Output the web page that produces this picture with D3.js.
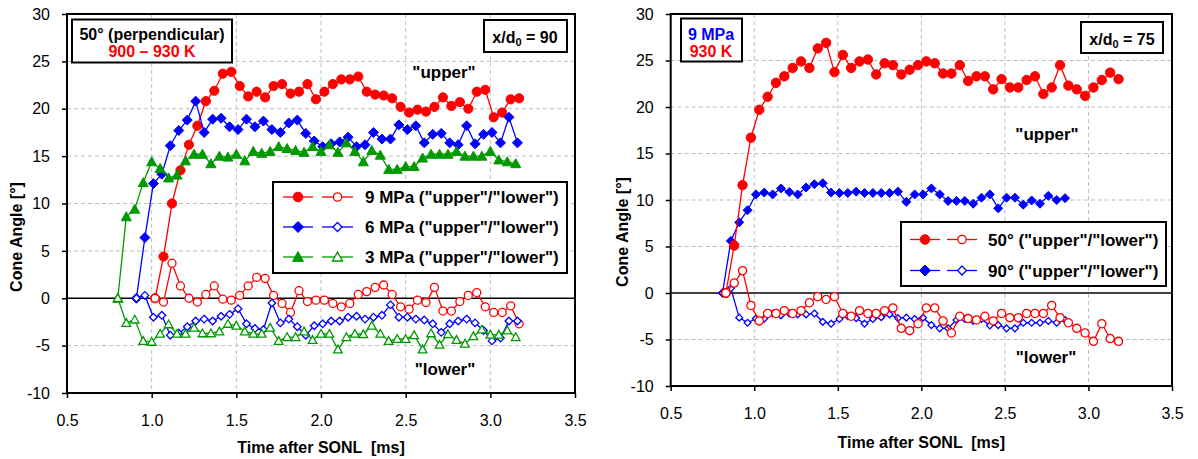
<!DOCTYPE html>
<html>
<head>
<meta charset="utf-8">
<script src="https://cdn.jsdelivr.net/npm/d3@7"></script>
<style>
  body { margin: 0; background: #fff; }
  text { font-family: "Liberation Sans", Arial, sans-serif; fill: #000; }
</style>
</head>
<body>
<div id="graph"></div>
<script>
var xTicks = [0.5, 1.0, 1.5, 2.0, 2.5, 3.0, 3.5];
var yTicks = [-10, -5, 0, 5, 10, 15, 20, 25, 30];

// left panel: x/d0 = 90, 50 deg injector, three pressures
var tL9 = [1.02,1.07,1.12,1.17,1.22,1.27,1.32,1.37,1.42,1.47,1.52,1.57,1.62,1.67,1.72,1.77,1.82,1.87,1.92,1.97,2.02,2.07,
           2.12,2.17,2.22,2.27,2.32,2.37,2.42,2.47,2.52,2.57,2.62,2.67,2.72,2.77,2.82,2.87,2.92,2.97,3.02,3.07,3.12,3.17];
var upL9 = [0,4.4,10.0,13.5,16.2,18.2,20.8,21.9,23.7,23.9,22.4,21.3,21.8,21.2,22.4,22.6,21.6,21.8,22.6,21.0,21.8,22.6,
            23.1,23.1,23.4,21.8,21.5,21.4,21.1,20.2,19.6,19.9,19.7,20.2,21.2,20.3,20.7,20.0,21.8,22.0,19.1,19.6,21.0,21.1];
var loL9 = [0,-0.4,3.7,1.3,0.0,-0.4,0.4,1.3,-0.1,-0.2,0.3,1.3,2.2,2.1,0.3,-0.55,-1.5,0.8,-0.35,-0.2,-0.2,-0.55,
            -0.9,-0.55,0.4,0.7,1.15,1.4,0.4,-0.9,-1.15,-0.2,-0.45,1.15,-1.35,-1.35,-0.35,0.3,0.6,-0.9,-1.5,-1.5,-0.8,-2.7];

var tL6 = [0.91,0.96,1.01,1.06,1.11,1.16,1.21,1.26,1.31,1.36,1.41,1.46,1.51,1.56,1.61,1.66,1.71,1.76,1.81,1.86,1.91,1.96,2.01,
           2.06,2.11,2.16,2.21,2.26,2.31,2.36,2.41,2.46,2.51,2.56,2.61,2.66,2.71,2.76,2.81,2.86,2.91,2.96,3.01,3.06,3.11,3.16];
var upL6 = [0,6.4,12.1,13.1,16.1,17.7,18.8,20.8,17.5,18.9,19.0,18.1,17.8,18.9,18.1,18.7,17.8,17.5,18.5,18.8,17.4,16.6,16.0,
            16.3,16.5,17.0,16.0,16.2,17.5,16.8,16.8,18.3,17.8,18.2,16.4,17.3,17.4,16.4,16.2,18.2,16.3,17.3,17.5,16.4,19.1,16.4];
var loL6 = [0,0.3,-2.0,-1.8,-3.9,-3.7,-3.0,-2.4,-2.2,-2.4,-1.9,-1.7,-1.1,-2.7,-3.2,-3.3,-0.5,-2.6,-2.2,-3.0,-3.9,-2.9,-2.7,
            -2.4,-2.4,-2.0,-1.9,-2.2,-2.0,-1.8,-0.7,-2.0,-2.0,-2.2,-2.3,-2.7,-3.6,-2.7,-2.4,-2.2,-2.6,-3.4,-4.5,-4.2,-2.4,-2.4];

var tL3 = [0.80,0.85,0.90,0.95,1.00,1.05,1.10,1.15,1.20,1.25,1.30,1.35,1.40,1.45,1.50,1.55,1.60,1.65,1.70,1.75,1.80,1.85,1.90,1.95,
           2.00,2.05,2.10,2.15,2.20,2.25,2.30,2.35,2.40,2.45,2.50,2.55,2.60,2.65,2.70,2.75,2.80,2.85,2.90,2.95,3.00,3.05,3.10,3.15];
var upL3 = [0,8.6,9.4,12.2,14.4,13.7,12.7,13.0,14.5,15.2,15.2,14.2,15.0,14.9,15.2,14.5,15.5,15.3,15.5,16.0,15.8,15.6,15.4,16.0,
            15.5,16.2,15.4,16.4,15.5,14.4,15.6,15.1,13.6,13.6,13.9,13.9,14.8,15.2,15.2,15.2,15.5,15.0,15.0,15.0,15.5,14.6,14.4,14.2];
var loL3 = [0,-2.6,-2.25,-4.5,-4.6,-3.75,-2.75,-3.75,-3.75,-3.1,-3.7,-3.7,-3.5,-2.7,-2.9,-3.5,-3.75,-3.75,-3.1,-4.5,-4.1,-4.1,-3.5,-4.4,
            -3.75,-3.75,-5.4,-4.1,-3.75,-3.8,-2.9,-3.75,-4.5,-4.3,-4.3,-3.9,-5.4,-3.7,-4.9,-3.8,-4.4,-4.8,-4.0,-3.3,-3.85,-3.85,-3.4,-4.1];

// right panel: x/d0 = 75, 9 MPa, 50 deg vs 90 deg
var tR50 = [0.83,0.88,0.93,0.98,1.03,1.08,1.13,1.18,1.23,1.28,1.33,1.38,1.43,1.48,1.53,1.58,1.63,1.68,1.73,1.78,1.83,1.88,1.93,1.98,
            2.03,2.08,2.13,2.18,2.23,2.28,2.33,2.38,2.43,2.48,2.53,2.58,2.63,2.68,2.73,2.78,2.83,2.88,2.93,2.98,3.03,3.08,3.13,3.18];
var upR50 = [0,5.1,11.6,16.7,19.7,21.1,22.6,23.3,24.2,24.9,24.2,26.3,26.9,23.75,25.6,24.2,24.9,25.1,23.5,24.7,24.5,23.5,24.0,24.5,
             24.9,24.7,23.6,23.6,24.5,22.8,23.3,23.3,21.9,23.0,22.1,22.1,22.9,23.3,21.4,22.1,24.5,22.3,21.9,21.2,22.1,22.9,23.7,23.0];
var loR50 = [0,1.07,2.4,-1.34,-3.0,-2.2,-2.2,-1.9,-2.2,-1.9,-1.05,-0.4,-0.7,-0.4,-2.2,-2.5,-1.9,-2.2,-2.2,-1.9,-1.6,-3.8,-4.05,-3.3,
             -1.6,-1.6,-3.0,-4.3,-2.5,-2.75,-2.9,-2.5,-3.0,-2.2,-2.65,-2.65,-2.2,-2.2,-2.2,-1.34,-2.65,-3.2,-3.8,-4.3,-5.2,-3.3,-4.9,-5.2];

var tR90 = [0.81,0.86,0.91,0.96,1.01,1.06,1.11,1.16,1.21,1.26,1.31,1.36,1.41,1.46,1.51,1.56,1.61,1.66,1.71,1.76,1.81,
            1.86,1.91,1.96,2.01,2.06,2.11,2.16,2.21,2.26,2.31,2.36,2.41,2.46,2.51,2.56,2.61,2.66,2.71,2.76,2.81,2.86];
var upR90 = [0,5.6,7.6,8.9,10.6,10.8,10.6,11.25,10.85,10.6,11.35,11.7,11.8,10.8,10.75,10.75,10.9,10.75,10.75,10.75,10.75,
             10.9,9.8,10.6,10.6,11.25,10.6,9.9,9.9,9.9,9.6,10.25,10.6,9.1,10.25,10.25,9.5,9.95,9.6,10.45,10.0,10.2];
var loR90 = [0,0.5,-2.65,-3.2,-2.75,-2.75,-2.2,-2.4,-2.2,-2.3,-2.3,-2.2,-3.1,-3.3,-2.8,-2.5,-2.7,-3.3,-2.8,-2.6,-2.3,
             -2.7,-2.65,-2.8,-2.65,-3.45,-3.8,-3.8,-2.9,-2.8,-3.0,-2.8,-3.5,-3.45,-3.8,-3.8,-3.2,-3.2,-3.2,-3.0,-3.2,-2.9];

var legendLeft = ['9 MPa ("upper"/"lower")', '6 MPa ("upper"/"lower")', '3 MPa ("upper"/"lower")'];
var legendRight = ['50\u00b0 ("upper"/"lower")', '90\u00b0 ("upper"/"lower")'];

var RED = '#ff0000', BLUE = '#0000ff', GREEN = '#009900';

var svg = d3.select('#graph').append('svg')
    .attr('width', 1198)
    .attr('height', 459);

function markerPath(type, s) {
  if (type === 'circle') return d3.symbol().type(d3.symbolCircle).size(Math.PI * s * s)();
  if (type === 'diamond') return 'M0,' + (-s) + 'L' + s + ',0L0,' + s + 'L' + (-s) + ',0Z';
  return 'M0,' + (-s) + 'L' + s + ',' + (s * 0.8) + 'L' + (-s) + ',' + (s * 0.8) + 'Z';
}

function drawMarker(g, px, py, m) {
  g.append('path')
    .attr('transform', 'translate(' + px + ',' + py + ')')
    .attr('d', markerPath(m.type, m.size))
    .attr('fill', m.filled ? m.color : '#fff')
    .attr('stroke', m.color)
    .attr('stroke-width', m.filled ? 1 : 1.3);
}

function drawPanel(p) {
  var x = d3.scaleLinear().domain([0.5, 3.5]).range([p.left, p.right]),
      y = d3.scaleLinear().domain([-10, 30]).range([p.bottom, p.top]);
  var g = svg.append('g');

  // dashed grid
  g.selectAll('.hgrid')
    .data(yTicks.filter(function(d) { return d > -10 && d < 30 && d !== 0; }))
    .enter().append('line')
    .attr('x1', p.left).attr('x2', p.right)
    .attr('y1', function(d) { return y(d); }).attr('y2', function(d) { return y(d); })
    .attr('stroke', '#bdbdbd').attr('stroke-dasharray', '4,3');
  g.selectAll('.vgrid')
    .data(xTicks.slice(1, -1))
    .enter().append('line')
    .attr('y1', p.top).attr('y2', p.bottom)
    .attr('x1', function(d) { return x(d); }).attr('x2', function(d) { return x(d); })
    .attr('stroke', '#bdbdbd').attr('stroke-dasharray', '4,3');

  g.append('line')
    .attr('x1', p.left).attr('x2', p.right)
    .attr('y1', y(0)).attr('y2', y(0))
    .attr('stroke', '#000').attr('stroke-width', 1.6);

  var ya = g.append('g')
    .attr('transform', 'translate(' + p.left + ',0)')
    .call(d3.axisLeft(y).tickValues(yTicks).tickSize(5).tickPadding(12)
      .tickFormat(function(d) { return String(d); }));
  var xa = g.append('g')
    .attr('transform', 'translate(0,' + p.bottom + ')')
    .call(d3.axisBottom(x).tickValues(xTicks).tickSize(5).tickPadding(17)
      .tickFormat(d3.format('.1f')));
  [ya, xa].forEach(function(a) {
    a.select('.domain').remove();
    a.selectAll('line').attr('stroke', '#000').attr('stroke-width', 1.5);
    a.selectAll('text').attr('font-size', 16).attr('fill', '#000')
      .style('font-family', '"Liberation Sans", Arial, sans-serif');
  });

  g.append('rect')
    .attr('x', p.left).attr('y', p.top)
    .attr('width', p.right - p.left).attr('height', p.bottom - p.top)
    .attr('fill', 'none').attr('stroke', '#000').attr('stroke-width', 2);

  // series
  p.series.forEach(function(s) {
    var data = d3.zip(s.t, s.v);
    var line = d3.line()
      .x(function(d) { return x(d[0]); })
      .y(function(d) { return y(d[1]); });
    g.append('path')
      .datum(data)
      .attr('d', line)
      .attr('fill', 'none')
      .attr('stroke', s.color)
      .attr('stroke-width', 1.3);
    data.forEach(function(d) { drawMarker(g, x(d[0]), y(d[1]), s); });
  });

  // axis titles
  g.append('text')
    .attr('x', (p.left + p.right) / 2).attr('y', p.xTitleY)
    .attr('text-anchor', 'middle')
    .attr('font-size', 16).attr('font-weight', 'bold')
    .attr('xml:space', 'preserve')
    .text('Time after SONL  [ms]');
  g.append('text')
    .attr('transform', 'translate(' + p.yTitleX + ',' + p.yTitleY + ') rotate(-90)')
    .attr('text-anchor', 'middle')
    .attr('font-size', 16).attr('font-weight', 'bold')
    .text('Cone Angle [\u00b0]');

  return g;
}

function box(g, x0, y0, w, h) {
  g.append('rect').attr('x', x0).attr('y', y0).attr('width', w).attr('height', h)
    .attr('fill', '#fff').attr('stroke', '#000').attr('stroke-width', 2);
}

function label(g, x0, y0, txt, color, size) {
  return g.append('text')
    .attr('x', x0).attr('y', y0)
    .attr('text-anchor', 'middle')
    .attr('font-size', size || 16).attr('font-weight', 'bold')
    .style('fill', color || '#000')
    .text(txt);
}

function xd(g, cx, by, val) {
  var t = g.append('text').attr('x', cx).attr('y', by)
    .attr('text-anchor', 'middle').attr('font-size', 16).attr('font-weight', 'bold');
  t.append('tspan').text('x/d');
  t.append('tspan').attr('font-size', 11).attr('dy', 3).text('0');
  t.append('tspan').attr('dy', -3).text(' = ' + val);
}

function legend(g, x0, y0, w, h, rows, items, s1, s2, tx) {
  box(g, x0, y0, w, h);
  items.forEach(function(it, i) {
    var cy = rows[i];
    [[s1, true], [s2, false]].forEach(function(sp) {
      g.append('line')
        .attr('x1', sp[0][0]).attr('x2', sp[0][1]).attr('y1', cy).attr('y2', cy)
        .attr('stroke', it.color).attr('stroke-width', 1.3);
      drawMarker(g, (sp[0][0] + sp[0][1]) / 2, cy, {
        type: it.type, color: it.color, filled: sp[1], size: sp[1] ? it.size : it.osize
      });
    });
    g.append('text')
      .attr('x', tx).attr('y', cy + 6)
      .attr('font-size', 17).attr('font-weight', 'bold')
      .text(it.text);
  });
}

// ---- left chart
var gl = drawPanel({
  left: 67, right: 575, top: 14, bottom: 393,
  xTitleY: 453, yTitleX: 22, yTitleY: 237,
  series: [
    {t: tL9, v: upL9, color: RED, type: 'circle', filled: true, size: 4.6},
    {t: tL9, v: loL9, color: RED, type: 'circle', filled: false, size: 4},
    {t: tL6, v: upL6, color: BLUE, type: 'diamond', filled: true, size: 5},
    {t: tL6, v: loL6, color: BLUE, type: 'diamond', filled: false, size: 3.8},
    {t: tL3, v: upL3, color: GREEN, type: 'triangle', filled: true, size: 5},
    {t: tL3, v: loL3, color: GREEN, type: 'triangle', filled: false, size: 4.3}
  ]
});
box(gl, 72, 19.5, 160, 43);
label(gl, 152, 40, '50\u00b0 (perpendicular)');
label(gl, 152, 57, '900 \u2013 930 K', RED);
box(gl, 484, 20, 83, 32);
xd(gl, 525, 43, '90');
label(gl, 444, 78, '"upper"', '#000', 17);
label(gl, 445, 375, '"lower"', '#000', 17);
legend(gl, 273, 182, 294, 91, [197, 227, 257], [
  {text: legendLeft[0], color: RED, type: 'circle', size: 4.8, osize: 4.2},
  {text: legendLeft[1], color: BLUE, type: 'diamond', size: 5.5, osize: 4.5},
  {text: legendLeft[2], color: GREEN, type: 'triangle', size: 5.5, osize: 5}
], [283, 313], [322, 353], 365);

// ---- right chart
var gr = drawPanel({
  left: 670.7, right: 1172, top: 14, bottom: 386,
  xTitleY: 448, yTitleX: 628, yTitleY: 232,
  series: [
    {t: tR90, v: upR90, color: BLUE, type: 'diamond', filled: true, size: 4.5},
    {t: tR90, v: loR90, color: BLUE, type: 'diamond', filled: false, size: 3.4},
    {t: tR50, v: upR50, color: RED, type: 'circle', filled: true, size: 4.7},
    {t: tR50, v: loR50, color: RED, type: 'circle', filled: false, size: 4.1}
  ]
});
box(gr, 681, 18.5, 61, 43);
label(gr, 711, 39.5, '9 MPa', BLUE);
label(gr, 711, 56.5, '930 K', RED);
box(gr, 1081, 22, 82, 31);
xd(gr, 1122, 45, '75');
label(gr, 1047, 140, '"upper"', '#000', 17);
label(gr, 1046, 363, '"lower"', '#000', 17);
legend(gr, 901, 222, 265, 64, [239.5, 270.5], [
  {text: legendRight[0], color: RED, type: 'circle', size: 4.8, osize: 4.2},
  {text: legendRight[1], color: BLUE, type: 'diamond', size: 5.5, osize: 4.5}
], [910, 940], [947, 977], 988);
</script>
</body>
</html>
